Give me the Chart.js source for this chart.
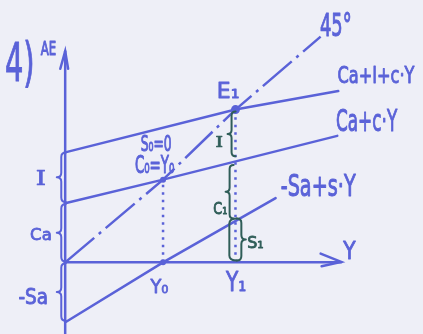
<!DOCTYPE html>
<html><head><meta charset="utf-8">
<script src="https://cdn.jsdelivr.net/npm/chart.js@4/dist/chart.umd.min.js"></script>
<style>html,body{margin:0;padding:0;background:#eeeff7;}canvas{display:block;}</style>
</head><body>
<canvas id="c" width="423" height="334"></canvas>
<script>
// ---- data (income Y on x, expenditure on y, arbitrary units) ----
const incomeAE = [0, 17.4, 27.9];
const aeValues = [11.3, 15.7, 17.6];          // Ca + I + c·Y
const incomeC  = [0.1, 10, 27.8];
const cValues  = [6.1, 8.5, 13.0];            // Ca + c·Y
const incomeS  = [0.1, 10, 21.5];
const sValues  = [-6.1, 0, 6.6];              // -Sa + s·Y
const income45 = [0, 10, 17.4, 26.1];
const line45   = [0, 8.5, 15.7, 23.2];        // 45° line
const eqIncome = [17.4, 10, 10];              // E1, C0=Y0, Y0
const eqValue  = [15.7, 8.5, 0];
const Y0 = 10, Y1 = 17.4, C0 = 8.5, E1 = 15.7;
const axisTopAE = 21.7, axisBottomAE = -7.5, axisEndY = 28.2;
// braces: [x, top, bottom]
const bracesAxis  = [[-0.4, 11.3, 6.2], [-0.4, 6.0, 0.1], [-0.4, -0.1, -6.0]];
const bracesInner = [[17.0, 15.5, 10.9], [16.8, 10.0, 4.5]];
const braceS1 = [18.0, 4.5, 0.2];
// labels
const labelTexts = ['4)', 'AE', '45°', 'Ca+I+c·Y', 'Ca+c·Y', '-Sa+s·Y', 'E₁', 'S₀=0', 'C₀=Y₀',
                    'Y₀', 'Y₁', 'Y', 'I', 'Ca', '-Sa', 'I', 'C₁', 'S₁'];
const labelBoxes = [[-5.7,22.7,-3.7,17.9],[-2.5,22.7,-1.0,21.3],[26.2,25.7,29.0,23.2],
  [27.9,20.2,35.7,18.4],[27.9,15.9,33.8,13.5],[22.1,9.1,29.7,6.8],[15.7,18.5,17.7,16.9],
  [7.8,13.1,10.8,11.4],[7.5,11.1,10.8,9.2],[8.7,-1.7,10.5,-3.2],[16.4,-0.9,18.4,-2.9],
  [28.4,2.1,29.7,0.3],[-3.1,9.5,-1.9,8.0],[-3.5,3.6,-1.5,2.3],[-4.7,-2.7,-1.9,-4.3],
  [15.3,13.0,16.2,11.9],[15.2,6.3,16.5,5.0],[18.7,2.8,20.2,1.5]];
const labelGreen = [15, 16, 17];
const labelSerif = [12, 15];

const BLUE = '#5a62d8', GREEN = '#2f5d58', PAPER = '#eeeff7';
const xy = (xs, ys) => xs.map((x, i) => ({x, y: ys[i]}));

function line(data, extra) {
  return Object.assign({data, showLine: true, borderColor: BLUE, borderWidth: 2.5,
    pointRadius: 0, tension: 0, fill: false, clip: false, borderCapStyle: 'round'}, extra || {});
}

const datasets = [
  line(xy(incomeAE, aeValues)),
  line(xy(incomeC, cValues)),
  line(xy(incomeS, sValues)),
  line(xy(income45, line45), {borderDash: [38, 6, 3, 6], borderCapStyle: 'butt'}),
  line(xy([Y0, Y0], [0, C0]), {borderDash: [2.5, 5], borderCapStyle: 'butt'}),
  line(xy([Y1, Y1], [0, E1]), {borderDash: [2.5, 5], borderCapStyle: 'butt'}),
  line(xy([0, 0], [axisBottomAE, axisTopAE])),
  line(xy([0, axisEndY], [0, 0])),
  line(xy([-0.5, 0, 0.3], [axisTopAE - 1.8, axisTopAE, axisTopAE - 1.8])),
  line(xy([axisEndY - 2.1, axisEndY, axisEndY - 2.0], [0.9, 0.05, -0.4])),
  {data: xy(eqIncome, eqValue), showLine: false, pointRadius: [4.5, 3, 3],
   pointBackgroundColor: BLUE, pointBorderWidth: 0, clip: false}
];

function brace(ctx, x, y1, y2, d, r) {
  const ym = (y1 + y2) / 2;
  ctx.beginPath();
  ctx.moveTo(x - d * r, y1);
  ctx.quadraticCurveTo(x, y1, x, y1 + r);
  ctx.lineTo(x, ym - r);
  ctx.quadraticCurveTo(x, ym, x + d * r, ym);
  ctx.quadraticCurveTo(x, ym, x, ym + r);
  ctx.lineTo(x, y2 - r);
  ctx.quadraticCurveTo(x, y2, x - d * r, y2);
  ctx.stroke();
}

function fitText(ctx, text, x1, y1, x2, y2, color, family) {
  ctx.save();
  ctx.font = '100px ' + family;
  ctx.textAlign = 'left'; ctx.textBaseline = 'alphabetic';
  const m = ctx.measureText(text);
  const w = m.actualBoundingBoxLeft + m.actualBoundingBoxRight;
  const h = m.actualBoundingBoxAscent + m.actualBoundingBoxDescent;
  const sy = (y2 - y1) / h;
  let sx = (x2 - x1) / w;
  sx = Math.max(0.55 * sy, Math.min(1.3 * sy, sx));
  const cx = (x1 + x2) / 2 - (w * sx) / 2;
  ctx.translate(cx + m.actualBoundingBoxLeft * sx, y1 + m.actualBoundingBoxAscent * sy);
  ctx.scale(sx, sy);
  ctx.fillStyle = color; ctx.strokeStyle = color;
  ctx.lineWidth = 0.8 / Math.sqrt(sx * sy);
  ctx.lineJoin = 'round';
  ctx.fillText(text, 0, 0);
  ctx.strokeText(text, 0, 0);
  ctx.restore();
}

const decor = {
  id: 'decor',
  beforeDraw(chart) {
    const ctx = chart.ctx;
    ctx.save(); ctx.fillStyle = PAPER; ctx.fillRect(0, 0, chart.width, chart.height); ctx.restore();
  },
  afterDatasetsDraw(chart) {
    const ctx = chart.ctx, sx = chart.scales.x, sy = chart.scales.y;
    const px = v => sx.getPixelForValue(v), py = v => sy.getPixelForValue(v);
    ctx.save();
    ctx.lineWidth = 2; ctx.lineCap = 'round'; ctx.lineJoin = 'round';
    ctx.strokeStyle = BLUE;
    bracesAxis.forEach(b => brace(ctx, px(b[0]), py(b[1]), py(b[2]), -1, 4.5));
    ctx.strokeStyle = GREEN;
    bracesInner.forEach(b => brace(ctx, px(b[0]), py(b[1]), py(b[2]), -1, 4));
    // S1 loop-shaped brace
    const bx = px(braceS1[0]), t = py(braceS1[1]), bb = py(braceS1[2]);
    brace(ctx, bx, t, bb, 1, 4.5);
    ctx.beginPath();
    ctx.moveTo(bx - 4.5, t);
    ctx.quadraticCurveTo(bx - 12, t, bx - 12, t + 5);
    ctx.lineTo(bx - 12, bb - 5);
    ctx.quadraticCurveTo(bx - 12, bb, bx - 4.5, bb);
    ctx.stroke();
    ctx.restore();
    labelTexts.forEach((t, i) => {
      const b = labelBoxes[i];
      fitText(ctx, t, px(b[0]), py(b[1]), px(b[2]), py(b[3]),
        labelGreen.includes(i) ? GREEN : BLUE,
        labelSerif.includes(i) ? '"DejaVu Serif"' : '"DejaVu Sans"');
    });
  }
};

new Chart(document.getElementById('c'), {
  type: 'scatter',
  data: {datasets},
  options: {
    responsive: false, animation: false, devicePixelRatio: 1,
    layout: {padding: 0},
    plugins: {legend: {display: false}, tooltip: {enabled: false}},
    scales: {
      x: {type: 'linear', min: -6.2, max: 36.1, display: false},
      y: {type: 'linear', min: -6.9, max: 26.5, display: false}
    }
  },
  plugins: [decor]
});
</script>
</body></html>
